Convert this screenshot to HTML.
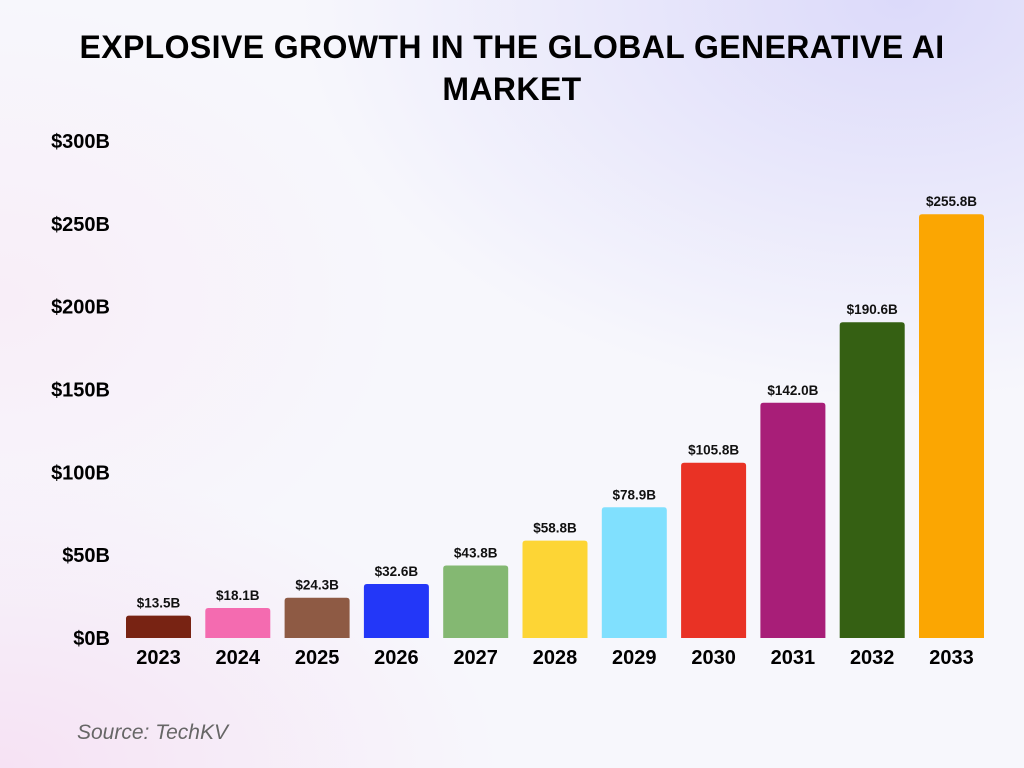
<!DOCTYPE html>
<html><head><meta charset="utf-8"><style>
html,body{margin:0;padding:0}
body{width:1024px;height:768px;overflow:hidden;position:relative;font-family:"Liberation Sans",sans-serif;
background:radial-gradient(ellipse 600px 400px at 900px 0px,#dcdafa 0%,rgba(220,218,250,0) 100%),
radial-gradient(ellipse 500px 300px at 0px 768px,#f6e2f4 0%,rgba(246,226,244,0) 100%),
radial-gradient(ellipse 400px 300px at 0px 300px,#f8eef8 0%,rgba(248,238,248,0) 100%),#f7f7fc;}
#title{position:absolute;left:0;top:26px;width:1024px;text-align:center;font-weight:bold;font-size:32px;line-height:42px;color:#000;letter-spacing:0.4px}
#src{position:absolute;left:77px;top:721px;font-size:21px;font-style:italic;color:#666}
</style></head><body>
<div id="title">EXPLOSIVE GROWTH IN THE GLOBAL GENERATIVE AI<br>MARKET</div>
<svg id="chart" width="1024" height="768" style="position:absolute;left:0;top:0"></svg>
<div id="src">Source: TechKV</div>
<script>
const categories=["2023","2024","2025","2026","2027","2028","2029","2030","2031","2032","2033"];
const values=[13.5,18.1,24.3,32.6,43.8,58.8,78.9,105.8,142.0,190.6,255.8];
const valueLabels=["$13.5B","$18.1B","$24.3B","$32.6B","$43.8B","$58.8B","$78.9B","$105.8B","$142.0B","$190.6B","$255.8B"];
const colors=["#782313","#f46bb0","#8e5a44","#2337f8","#84b872","#fdd535","#80e0fe","#e93225","#a81e78","#356013","#fba602"];
const yTicks=[0,50,100,150,200,250,300];
const yTickLabels=["$0B","$50B","$100B","$150B","$200B","$250B","$300B"];
const NS="http://www.w3.org/2000/svg";
const svg=document.getElementById('chart');
const base=638,top0=141,yMax=300;
const y=v=>base-(v/yMax)*(base-top0);
const x0=126,step=79.3,bw=65;
const x=i=>x0+i*step;
function mk(t,a){const e=document.createElementNS(NS,t);for(const k in a)e.setAttribute(k,a[k]);svg.appendChild(e);return e;}
yTicks.forEach((t,i)=>{
 const e=mk('text',{x:110,y:y(t)+7,'text-anchor':'end','font-size':20,'font-weight':'bold',fill:'#000'});
 e.textContent=yTickLabels[i];
 
 
});
values.forEach((v,i)=>{
 const r=3;
 const X=x(i),Y=y(v);
 const p=mk('path',{d:`M${X},${base}V${Y+r}Q${X},${Y} ${X+r},${Y}H${X+bw-r}Q${X+bw},${Y} ${X+bw},${Y+r}V${base}Z`,fill:colors[i]});
 
 
 const l=mk('text',{x:X+bw/2,y:Y-8,'text-anchor':'middle','font-size':13.5,'font-weight':'bold',fill:'#111'});
 l.textContent=valueLabels[i];
 
 
 const c=mk('text',{x:X+bw/2,y:664,'text-anchor':'middle','font-size':20,'font-weight':'bold',fill:'#000'});
 c.textContent=categories[i];
 
 
});
</script>
</body></html>
